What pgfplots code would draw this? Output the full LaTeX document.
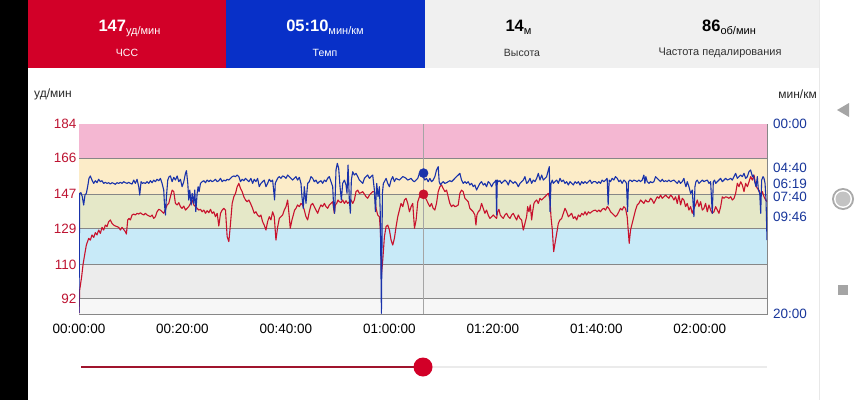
\documentclass[border=0pt]{standalone}
\usepackage{fontspec}
\setmainfont{Liberation Sans}
\usepackage{pgfplots}
\pgfplotsset{compat=1.18}
\definecolor{hdrred}{RGB}{210,0,40}
\definecolor{hdrblue}{RGB}{8,48,200}
\definecolor{hdrgray}{RGB}{240,240,240}
\definecolor{hrline}{RGB}{200,18,45}
\definecolor{paceline}{RGB}{25,50,170}
\definecolor{hrlab}{RGB}{190,20,50}
\definecolor{pacelab}{RGB}{25,55,155}
\definecolor{zpink}{RGB}{244,183,210}
\definecolor{zyellow}{RGB}{252,236,200}
\definecolor{zgreen}{RGB}{229,232,200}
\definecolor{zblue}{RGB}{200,234,248}
\definecolor{zgray}{RGB}{236,236,236}
\definecolor{zlight}{RGB}{247,247,247}
\definecolor{gridgray}{RGB}{135,135,135}
\definecolor{navgray}{RGB}{165,165,165}
\definecolor{sepgray}{RGB}{232,232,232}
\definecolor{txtdark}{RGB}{40,40,40}
\definecolor{txtmid}{RGB}{50,50,50}
\definecolor{curgray}{RGB}{165,165,165}
\definecolor{ringgray}{RGB}{170,170,170}
\definecolor{innergray}{RGB}{195,195,195}
\definecolor{slidegray}{RGB}{235,235,235}
\definecolor{slidered}{RGB}{160,20,45}
\newcommand\sub[1]{\raisebox{-2.5pt}{\fontsize{11}{11}\selectfont #1}}
\begin{document}
\begin{tikzpicture}[x=1pt,y=1pt]
\path[use as bounding box] (0,0) rectangle (867,400);
\fill[white] (0,0) rectangle (867,400);
\fill[black] (0,0) rectangle (28,400);
\fill[hdrred] (28,332) rectangle (226,400);
\fill[hdrblue] (226,332) rectangle (425,400);
\fill[hdrgray] (425,332) rectangle (819,400);
\draw[sepgray] (819.5,0) -- (819.5,400);
% header texts
\node[anchor=base,white,inner sep=0] at (129.5,368) {{\bfseries\fontsize{16.5}{16}\selectfont 147}\sub{уд/мин}};
\node[white,inner sep=0] at (127,347) {\fontsize{10.5}{10}\selectfont ЧСС};
\node[anchor=base,white,inner sep=0] at (325,368) {{\bfseries\fontsize{16.5}{16}\selectfont 05:10}\sub{мин/км}};
\node[white,inner sep=0] at (325,347) {\fontsize{10.5}{10}\selectfont Темп};
\node[anchor=base,black,inner sep=0] at (518.5,368) {{\bfseries\fontsize{16.5}{16}\selectfont 14}\sub{м}};
\node[txtmid,inner sep=0] at (522,347) {\fontsize{10.5}{10}\selectfont Высота};
\node[anchor=base,black,inner sep=0] at (729,368) {{\bfseries\fontsize{16.5}{16}\selectfont 86}\sub{об/мин}};
\node[txtmid,inner sep=0] at (720,347) {\fontsize{11}{10}\selectfont Частота педалирования};
\node[anchor=west,inner sep=0,txtdark] at (34,306) {\fontsize{12}{12}\selectfont уд/мин};
\node[anchor=east,inner sep=0,txtdark] at (817,306) {\fontsize{12}{12}\selectfont мин/км};
% nav icons
\fill[navgray] (837,290) -- (849,297) -- (849,283) -- cycle;
\fill[ringgray] (843,201) circle (11);
\fill[white] (843,201) circle (9);
\fill[innergray] (843,201) circle (7.5);
\fill[navgray] (838,105) rectangle (848,115);
% slider
\draw[line width=2pt,slidegray] (423,33) -- (767,33);
\draw[line width=2.6pt,slidered] (81,33) -- (423,33);
\fill[hdrred] (423,33) circle (9.5);

\begin{axis}[
  at={(79pt,86pt)}, anchor=south west,
  scale only axis, width=688pt, height=190pt,
  xmin=0, xmax=133, ymin=84, ymax=184,
  axis line style={draw=gridgray, line width=0.8pt},
  xtick={0,20,40,60,80,100,120},
  xticklabels={00:00:00,00:20:00,00:40:00,01:00:00,01:20:00,01:40:00,02:00:00},
  ytick={92,110,129,147,166,184},
  yticklabels={92,110,129,147,166,184},
  major tick length=0pt,
  tick label style={font=\fontsize{13.5}{14}\selectfont, inner sep=0pt},
  xticklabel style={anchor=center, yshift=-14.7pt, black},
  yticklabel style={anchor=east, xshift=-2.5pt, text=hrlab},
  clip=true,
]
\addplot[fill=zlight, draw=none] coordinates {(0,84)(133,84)(133,92)(0,92)} -- cycle;
\addplot[fill=zgray, draw=none] coordinates {(0,92)(133,92)(133,110)(0,110)} -- cycle;
\addplot[fill=zblue, draw=none] coordinates {(0,110)(133,110)(133,129)(0,129)} -- cycle;
\addplot[fill=zgreen, draw=none] coordinates {(0,129)(133,129)(133,147)(0,147)} -- cycle;
\addplot[fill=zyellow, draw=none] coordinates {(0,147)(133,147)(133,166)(0,166)} -- cycle;
\addplot[fill=zpink, draw=none] coordinates {(0,166)(133,166)(133,184)(0,184)} -- cycle;
\addplot[gridgray, line width=0.9pt] coordinates {(0,92)(133,92)};
\addplot[gridgray, line width=0.9pt] coordinates {(0,110)(133,110)};
\addplot[gridgray, line width=0.9pt] coordinates {(0,129)(133,129)};
\addplot[gridgray, line width=0.9pt] coordinates {(0,147)(133,147)};
\addplot[gridgray, line width=0.9pt] coordinates {(0,166)(133,166)};
\addplot[curgray, line width=0.9pt] coordinates {(66.6,84)(66.6,184)};
\addplot[hrline, line width=1.1pt, line join=round] coordinates {
(0,84.3)(0.13,96.6)(0.51,103.6)(0.77,109.8)(1.03,114.2)(1.42,120.3)(1.87,123.8)(2.19,122.9)(2.51,125.6)(2.84,124.3)(3.16,126.8)(3.48,125.6)(3.80,128.2)(4.13,126.4)(4.45,129.6)(4.77,128.2)(5.09,130.8)(5.42,130.0)(5.74,132.6)(6.06,133.5)(6.38,131.7)(6.71,130.8)(7.03,130.3)(7.35,130.0)(7.68,129.6)(8.00,128.2)(8.32,129.6)(8.64,128.5)(8.97,127.3)(9.16,126.1)(9.42,133.5)(9.67,134.3)(9.93,133.5)(10.26,136.1)(10.58,136.6)(10.90,136.1)(11.22,137.0)(11.55,136.6)(11.87,137.3)(12.19,136.6)(12.51,136.1)(12.84,137.0)(13.16,136.1)(13.48,135.7)(13.80,135.2)(14.13,136.1)(14.45,134.3)(14.77,135.2)(15.09,137.8)(15.42,139.1)(15.74,138.7)(16.06,137.8)(16.38,137.0)(16.71,139.1)(17.03,141.4)(17.35,142.2)(17.67,145.7)(18.00,149.2)(18.32,148.4)(18.64,142.2)(18.97,141.4)(19.29,142.6)(19.61,140.5)(19.93,139.6)(20.26,140.8)(20.58,138.7)(20.90,139.6)(21.22,140.5)(21.55,142.2)(21.87,144.0)(22.19,141.4)(22.51,140.5)(22.84,139.6)(23.16,138.7)(23.48,139.1)(23.80,137.8)(24.13,138.7)(24.45,137.0)(24.77,138.4)(25.09,137.3)(25.42,139.1)(25.74,137.0)(26.06,137.8)(26.38,135.2)(26.71,137.0)(27.03,130.3)(27.35,137.0)(27.68,138.7)(28.00,139.6)(28.32,138.7)(28.64,124.7)(28.97,122.1)(29.29,131.7)(29.61,142.2)(29.93,145.7)(30.26,147.5)(30.58,151.0)(30.90,152.8)(31.22,150.1)(31.55,148.4)(31.87,145.7)(32.19,144.0)(32.51,143.1)(32.84,144.0)(33.16,142.2)
(33.56,139.6)(33.88,137.0)(34.20,137.8)(34.52,136.1)(34.85,135.2)(35.17,136.1)(35.49,132.6)(35.81,130.8)(36.14,128.2)(36.46,132.6)(36.78,135.2)(37.10,133.5)(37.43,137.8)(37.75,135.2)(38.07,122.9)(38.39,129.6)(38.72,134.3)(39.04,135.2)(39.36,136.1)(39.68,138.7)(40.01,140.5)(40.33,144.0)(40.65,135.2)(40.84,129.1)(41.17,133.5)(41.43,136.1)(41.68,138.7)(41.94,139.6)(42.26,141.4)(42.59,140.5)(42.91,142.2)(43.23,141.4)(43.55,138.7)(43.88,135.2)(44.20,133.5)(44.52,137.8)(44.85,141.4)(45.17,142.2)(45.49,140.5)(45.81,138.7)(46.14,137.0)(46.46,139.6)(46.78,141.4)(47.10,140.5)(47.43,142.2)(47.75,140.5)(48.07,139.6)(48.39,141.4)(48.72,142.2)(49.04,143.1)(49.36,137.0)(49.55,141.4)(49.81,142.2)(50.07,144.0)(50.33,143.1)(50.65,142.6)(50.97,144.0)(51.30,142.2)(51.62,143.6)(51.94,142.2)(52.26,143.1)(52.59,144.0)(52.91,142.2)(53.23,144.0)(53.55,148.4)(53.88,149.2)(54.20,147.5)(54.52,147.8)(54.85,148.4)(55.17,147.1)(55.49,145.7)(55.81,144.9)(56.14,146.6)(56.46,147.5)(56.78,148.4)(57.10,148.4)(57.43,139.6)(57.75,136.1)(58.07,135.2)(58.26,128.2)(58.46,104.5)(58.72,112.4)(59.04,124.7)(59.36,130.0)(59.68,130.8)(60.01,128.2)(60.33,122.9)(60.65,120.3)(60.97,123.8)(61.30,130.0)(61.62,135.2)(61.94,138.7)(62.26,142.2)(62.59,140.5)(62.91,144.0)(63.23,144.9)(63.55,142.2)(63.88,137.8)(64.20,140.5)(64.52,142.2)(64.85,129.1)(65.17,133.5)(65.49,143.1)(65.81,145.7)(66.14,147.0)
(66.53,147.0)(66.86,145.7)(67.18,144.0)(67.50,142.2)(67.82,140.5)(68.15,142.2)(68.47,139.6)(68.79,138.7)(69.11,142.2)(69.44,148.4)(69.76,151.0)(70.08,151.9)(70.40,150.1)(70.73,148.4)(71.05,149.2)(71.37,145.7)(71.69,142.2)(72.02,140.5)(72.34,141.4)(72.66,140.5)(72.98,140.8)(73.31,141.4)(73.63,147.5)(73.95,149.2)(74.27,148.4)(74.60,144.9)(74.92,144.0)(75.24,143.1)(75.56,139.6)(75.89,138.7)(76.21,137.8)(76.53,136.1)(76.73,130.8)(76.92,136.1)(77.18,137.8)(77.50,138.7)(77.82,142.2)(78.15,139.6)(78.47,137.0)(78.79,138.7)(79.11,136.1)(79.44,134.3)(79.76,135.2)(80.08,136.1)(80.40,135.2)(80.73,134.3)(80.92,137.8)(81.18,139.1)(81.43,136.1)(81.69,135.2)(82.02,134.3)(82.34,136.1)(82.66,137.0)(82.98,135.2)(83.31,134.3)(83.63,136.1)(83.95,137.0)(84.27,135.2)(84.60,133.5)(84.92,136.1)(85.24,134.3)(85.56,133.5)(85.89,128.2)(86.21,131.7)(86.53,135.2)(86.73,140.5)(86.98,137.8)(87.24,141.4)(87.50,133.5)(87.69,137.8)(87.95,142.2)(88.15,143.1)(88.47,144.0)(88.79,142.2)(89.11,144.9)(89.44,144.0)(89.76,144.9)(90.08,145.7)(90.40,146.6)(90.73,147.5)(91.05,144.0)(91.24,135.2)(91.50,128.2)(91.76,116.8)(92.02,121.2)(92.34,126.4)(92.66,131.7)(92.98,133.5)(93.31,134.3)(93.63,137.0)(93.95,139.6)(94.27,137.8)(94.60,135.2)(94.92,136.1)(95.24,137.0)(95.56,134.3)(95.89,135.2)(96.21,133.5)(96.53,136.1)(96.86,135.2)(97.18,137.0)(97.50,136.1)(97.82,137.8)(98.15,136.1)(98.47,137.8)(98.79,137.0)(99.11,137.8)(99.44,138.4)
(99.84,138.7)(100.17,137.8)(100.49,138.7)(100.81,137.8)(101.13,139.1)(101.46,139.6)(101.78,138.7)(102.10,140.5)(102.42,139.6)(102.75,137.8)(103.07,137.0)(103.39,136.1)(103.71,135.2)(104.04,136.1)(104.36,137.8)(104.68,139.6)(105.00,138.7)(105.33,140.5)(105.65,139.6)(105.97,135.2)(106.17,128.2)(106.36,121.2)(106.62,128.2)(106.94,131.7)(107.26,135.2)(107.58,138.7)(107.91,141.4)(108.23,142.2)(108.55,144.0)(108.87,143.1)(109.20,142.2)(109.52,144.0)(109.84,143.1)(110.17,143.1)(110.49,144.9)(110.81,144.0)(111.13,142.2)(111.46,144.0)(111.78,145.7)(112.10,144.9)(112.42,146.6)(112.75,144.9)(113.07,145.7)(113.39,146.6)(113.71,145.7)(114.04,144.9)(114.36,146.6)(114.68,145.7)(115.00,144.0)(115.33,145.7)(115.65,142.2)(115.97,146.6)(116.29,141.4)(116.62,144.9)(116.94,144.0)(117.26,140.5)(117.58,142.2)(117.91,138.7)(118.23,140.5)(118.55,137.0)(118.87,139.6)(119.20,141.4)(119.52,144.0)(119.84,140.5)(120.17,143.1)(120.49,138.7)(120.81,139.6)(121.13,142.2)(121.46,137.8)(121.78,141.4)(122.10,138.7)(122.42,137.0)(122.75,137.8)(123.07,140.5)(123.39,138.7)(123.71,137.0)(124.04,140.5)(124.36,145.7)(124.68,144.9)(125.00,145.7)(125.33,145.4)(125.65,144.9)(125.97,145.7)(126.29,144.0)(126.62,144.9)(126.94,147.5)(127.26,152.8)(127.58,151.0)(127.91,153.6)(128.23,151.9)(128.55,148.4)(128.87,152.8)(129.20,151.0)(129.52,153.6)(129.84,156.3)(130.17,154.5)(130.49,157.1)(130.81,151.9)(131.13,150.1)(131.46,149.2)(131.78,146.6)(132.10,148.4)(132.42,145.7)(132.75,144.0)(133.0,143.1)
};
\addplot[only marks, mark=*, mark size=4.6pt, color=hrline] coordinates {(66.6,147)};
\end{axis}

\begin{axis}[
  at={(79pt,86pt)}, anchor=south west,
  scale only axis, width=688pt, height=190pt,
  xmin=0, xmax=133, ymin=0, ymax=20, y dir=reverse,
  hide x axis,
  axis y line*=right,
  axis line style={draw=none},
  ytick={0,4.6667,6.3167,7.6667,9.7667,20},
  yticklabels={00:00,04:40,06:19,07:40,09:46,20:00},
  major tick length=0pt,
  tick label style={font=\fontsize{13.5}{14}\selectfont, inner sep=0pt},
  yticklabel style={anchor=west, xshift=6pt, text=pacelab},
  clip=true,
]
\addplot[paceline, line width=1.1pt, line join=round] coordinates {
(0,19.9)(0.13,7.30)(0.38,7.23)(0.64,7.65)(0.90,8.53)(1.16,7.47)(1.42,7.30)(1.67,6.60)(1.93,5.72)(2.19,5.47)(2.51,5.90)(2.84,6.25)(3.16,5.97)(3.48,6.18)(3.80,5.82)(4.13,6.07)(4.45,5.97)(4.77,6.25)(5.09,6.14)(5.42,6.25)(5.74,6.18)(6.06,6.32)(6.38,6.18)(6.71,6.25)(7.03,6.35)(7.35,6.18)(7.68,6.25)(8.00,6.14)(8.32,6.25)(8.64,6.07)(8.97,6.18)(9.29,6.25)(9.61,6.14)(9.93,6.25)(10.26,6.32)(10.58,5.90)(10.90,6.25)(11.22,5.82)(11.55,6.60)(11.74,7.47)(12.0,6.07)(12.25,6.25)(12.51,6.18)(12.84,6.25)(13.16,6.07)(13.48,6.25)(13.80,5.97)(14.13,6.18)(14.45,5.90)(14.77,6.07)(15.09,5.82)(15.42,5.97)(15.74,5.72)(16.06,6.25)(16.38,6.95)(16.51,8.35)(16.71,9.58)(16.9,7.65)(17.16,5.90)(17.42,5.54)(17.67,5.47)(18.0,6.07)(18.32,5.61)(18.64,5.90)(18.97,5.47)(19.29,6.07)(19.61,5.82)(19.93,6.60)(20.26,6.07)(20.58,5.19)(20.77,4.91)(21.03,6.25)(21.22,8.0)(21.42,6.95)(21.68,8.53)(21.87,7.30)(22.19,8.35)(22.38,6.95)(22.58,9.23)(22.84,7.30)(23.03,6.60)(23.22,7.12)(23.48,6.25)(23.80,6.07)(24.13,5.97)(24.45,6.18)(24.77,5.90)(25.09,6.07)(25.42,5.90)(25.74,6.07)(26.06,5.97)(26.38,5.82)(26.71,6.07)(27.03,5.97)(27.35,5.72)(27.68,6.07)(28.0,5.90)(28.32,6.00)(28.64,5.82)(28.97,5.90)(29.29,5.72)(29.61,5.54)(29.93,5.47)(30.26,5.54)(30.58,5.37)(30.90,5.54)(31.22,6.07)(31.55,5.82)(31.87,5.97)(32.19,5.72)(32.51,5.90)(32.84,6.07)
(33.23,5.72)(33.56,6.25)(33.88,5.82)(34.20,6.07)(34.52,5.72)(34.85,6.60)(35.17,6.25)(35.49,6.07)(35.81,5.90)(36.14,6.60)(36.46,6.25)(36.78,5.82)(37.10,6.07)(37.43,5.90)(37.62,6.95)(37.81,8.0)(37.94,6.25)(38.07,6.07)(38.39,5.72)(38.72,5.54)(39.04,5.72)(39.36,5.47)(39.68,5.54)(40.01,5.72)(40.33,5.37)(40.65,5.54)(40.97,5.72)(41.30,5.90)(41.62,5.72)(41.94,5.54)(42.26,5.90)(42.59,5.61)(42.91,6.25)(43.10,7.65)(43.36,8.88)(43.55,6.60)(43.88,8.35)(44.20,6.25)(44.52,6.07)(44.85,5.54)(45.17,5.72)(45.49,6.07)(45.81,5.90)(46.14,6.25)(46.46,6.07)(46.78,5.97)(47.10,6.25)(47.43,5.90)(47.75,6.07)(48.07,5.72)(48.39,5.54)(48.72,6.07)(49.04,6.60)(49.23,8.70)(49.42,9.40)(49.68,4.84)(49.94,4.14)(50.20,4.67)(50.46,6.60)(50.72,8.0)(50.97,6.25)(51.30,5.90)(51.62,6.42)(51.81,7.30)(52.01,4.32)(52.26,8.0)(52.46,9.40)(52.65,5.90)(52.91,5.02)(53.23,5.37)(53.55,5.19)(53.88,5.54)(54.20,5.90)(54.52,6.07)(54.85,6.25)(55.17,5.72)(55.49,5.54)(55.81,5.37)(56.14,5.72)(56.46,5.54)(56.78,5.37)(57.10,6.95)(57.30,9.23)(57.55,6.25)(57.81,7.65)(58.07,6.60)(58.26,9.75)(58.46,19.93)(58.65,7.30)(58.84,6.25)(59.04,6.07)(59.36,5.72)(59.68,6.25)(60.01,6.60)(60.33,5.90)(60.65,5.54)(60.97,6.07)(61.30,5.72)(61.62,5.82)(61.94,5.90)(62.26,5.72)(62.59,5.54)(62.91,5.61)(63.23,5.72)(63.55,5.90)(63.88,5.82)(64.20,5.72)(64.52,5.97)(64.85,6.07)(65.17,5.90)(65.49,5.72)(65.81,5.19)
(66.53,5.54)(66.86,5.90)(67.18,5.72)(67.50,6.07)(67.82,5.72)(68.15,6.07)(68.47,5.90)(68.79,5.54)(69.11,4.84)(69.44,4.49)(69.63,6.07)(69.89,6.42)(70.08,6.25)(70.40,6.07)(70.73,6.25)(71.05,6.18)(71.37,6.07)(71.69,5.97)(72.02,6.07)(72.34,5.90)(72.66,5.72)(72.98,5.54)(73.31,5.37)(73.63,5.19)(73.95,5.90)(74.27,6.25)(74.60,6.07)(74.92,6.25)(75.24,6.07)(75.56,6.42)(75.89,6.25)(76.21,6.60)(76.53,6.42)(76.86,6.95)(77.18,6.60)(77.50,6.25)(77.82,6.07)(78.15,6.42)(78.47,6.25)(78.79,6.60)(79.11,6.07)(79.44,6.25)(79.76,6.60)(80.08,6.25)(80.40,6.07)(80.60,5.90)(80.73,9.58)(80.86,5.90)(81.12,6.07)(81.37,5.97)(81.69,6.25)(82.02,6.07)(82.34,5.90)(82.66,6.07)(82.98,6.42)(83.31,5.90)(83.63,6.07)(83.95,6.25)(84.27,6.07)(84.60,6.25)(84.92,6.60)(85.24,6.25)(85.56,6.07)(85.89,5.90)(86.21,5.54)(86.53,6.25)(86.86,6.07)(87.18,5.72)(87.50,6.25)(87.82,5.90)(88.15,6.07)(88.47,5.72)(88.79,5.19)(89.11,5.90)(89.44,5.37)(89.76,5.90)(90.08,5.72)(90.40,5.54)(90.73,4.84)(90.92,4.49)(91.05,9.23)(91.24,6.25)(91.50,5.90)(91.69,6.25)(92.02,6.07)(92.34,5.90)(92.66,6.25)(92.98,5.72)(93.31,6.07)(93.63,5.90)(93.95,6.25)(94.27,6.07)(94.60,6.42)(94.92,6.07)(95.24,6.25)(95.56,6.42)(95.89,6.07)(96.21,6.25)(96.53,6.07)(96.86,6.42)(97.18,6.07)(97.50,6.25)(97.82,6.07)(98.15,6.25)(98.47,6.07)(98.79,5.90)(99.11,6.25)(99.44,6.07)
(99.84,6.07)(100.17,6.25)(100.49,6.07)(100.81,6.25)(101.13,5.90)(101.46,6.07)(101.78,5.90)(102.10,5.72)(102.29,8.53)(102.49,5.90)(102.75,6.07)(103.07,5.72)(103.39,5.90)(103.71,5.54)(104.04,5.72)(104.36,6.07)(104.68,5.90)(105.00,6.25)(105.33,5.90)(105.65,6.07)(105.84,6.25)(106.04,9.23)(106.23,6.07)(106.49,5.90)(106.75,5.97)(106.94,6.07)(107.26,5.90)(107.58,5.97)(107.91,6.07)(108.23,5.90)(108.55,6.07)(108.87,5.90)(109.20,5.37)(109.39,6.25)(109.58,5.54)(109.84,6.07)(110.17,6.25)(110.49,6.07)(110.81,6.18)(111.13,6.07)(111.46,5.54)(111.78,5.72)(112.10,5.90)(112.42,6.07)(112.75,5.82)(113.07,6.07)(113.39,5.97)(113.71,6.07)(114.04,5.90)(114.36,6.07)(114.68,5.97)(115.00,5.90)(115.33,6.07)(115.65,6.25)(115.97,5.97)(116.29,6.25)(116.62,6.07)(116.94,5.72)(117.13,6.25)(117.33,6.60)(117.58,6.07)(117.91,6.60)(118.23,7.30)(118.55,6.95)(118.87,9.75)(119.07,6.60)(119.26,6.07)(119.52,5.90)(119.84,6.25)(120.17,6.07)(120.49,5.90)(120.81,6.07)(121.13,5.97)(121.46,5.90)(121.78,6.25)(122.10,6.07)(122.42,9.40)(122.62,6.07)(122.87,5.90)(123.07,6.25)(123.39,6.07)(123.71,5.90)(124.04,5.72)(124.36,6.07)(124.68,5.90)(125.00,5.72)(125.33,5.90)(125.65,5.82)(125.97,5.72)(126.29,5.90)(126.62,5.54)(126.94,5.19)(127.26,5.72)(127.58,5.54)(127.91,5.37)(128.23,5.54)(128.55,5.19)(128.87,5.72)(129.20,5.54)(129.52,5.02)(129.84,4.84)(130.17,5.54)(130.36,5.37)(130.62,6.07)(130.88,6.60)(131.13,5.54)(131.33,6.95)(131.59,7.30)(131.78,9.40)(131.97,5.90)(132.23,5.54)(132.42,5.72)(132.62,6.25)(132.81,8.0)(133.0,12.21)
};
\addplot[only marks, mark=*, mark size=4.6pt, color=paceline] coordinates {(66.6,5.17)};
\end{axis}
\end{tikzpicture}
\end{document}
